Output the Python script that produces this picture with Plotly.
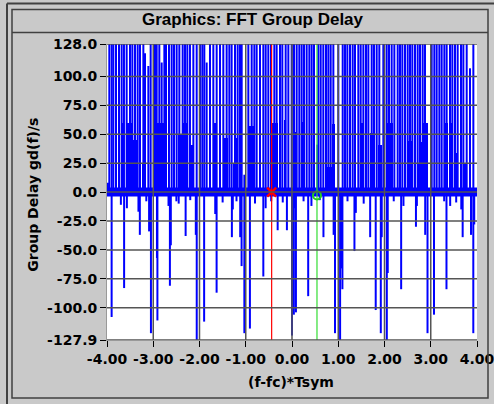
import plotly.graph_objects as go

# spikes that wrap to the top of the scale
full_x = [-3.950, -3.899, -3.863, -3.805, -3.741, -3.683, -3.633, -3.575, -3.503, -3.452,
          -3.395, -3.337, -3.287, -3.214, -3.056, -2.962, -2.926, -2.869, -2.760, -2.724,
          -2.660, -2.602, -2.551, -2.494, -2.436, -2.364, -2.314, -2.263, -2.206, -2.133,
          -2.061, -1.989, -1.939, -1.896, -1.773, -1.701, -1.629, -1.557, -1.485, -1.413,
          -1.355, -1.305, -1.232, -1.175, -1.124, -1.088, -0.944, -0.872, -0.814, -0.764,
          -0.692, -0.620, -0.569, -0.512, -0.454, -0.382, -0.332, -0.260, -0.209, -0.137,
          -0.079, -0.007, 0.043, 0.101, 0.158, 0.209, 0.259, 0.317, 0.375, 0.425,
          0.476, 0.569, 0.620, 0.677, 0.735, 0.786, 0.836, 0.894, 1.002, 1.096,
          1.146, 1.197, 1.254, 1.312, 1.362, 1.434, 1.485, 1.543, 1.600, 1.651,
          1.723, 1.773, 1.831, 1.888, 1.975, 2.047, 2.097, 2.155, 2.213, 2.285,
          2.335, 2.386, 2.443, 2.501, 2.551, 2.602, 2.659, 2.717, 2.768, 2.825,
          2.876, 3.020, 3.077, 3.128, 3.186, 3.236, 3.294, 3.344, 3.416, 3.467,
          3.524, 3.582, 3.654, 3.705, 3.777, 3.921]
full_top = 128.0

# single spikes of other heights (up and down)
spike_x = [-3.178, -3.106, -2.818, -1.845, 3.849, -3.98, -1.03, 0.55,
           -3.90, -3.63, -3.57, -3.70, -3.29, -3.32, -3.09, -3.05, -2.91, -2.92,
           -2.64, -2.62, -2.67, -2.30, -2.06, -2.08, -1.90, -1.63, -1.66, -1.30,
           -1.28, -1.12, -1.09, -1.03, -0.91, -0.62, -0.57, -0.31, -0.11, 0.00,
           0.04, 0.085, 0.06, 0.35, 0.42, 0.68, 0.90, 0.93, 1.04, 1.06,
           1.09, 1.35, 1.38, 1.69, 1.81, 1.92, 1.94, 2.05, 2.07, 2.36,
           2.41, 2.68, 2.70, 2.88, 2.93, 3.07, 3.34, 3.29, 3.42, 3.66,
           3.69, 3.87, 3.92, 3.94, -3.15, -2.50, -2.45, -2.20, -1.50, -1.20,
           -0.80, -0.45, -0.20, 0.25, 0.60, 1.20, 1.55, 2.20, 3.55]
spike_y = [120, 109, 112, 112, 107, 8, 15, 41,
           -108, -83, -14, -11, -37, -17, -34, -122, -111, -57,
           -81, -46, -12, -38, -127.9, -37, -112, -87, -19, -39,
           -15, -39, -64, -122, -118, -73, -14, -33, -33, -124,
           -106, -104, -14, -90, -12, -39, -37, -122, -127.9, -66,
           -84, -51, -18, -39, -102, -122, -39, -127.9, -70, -84,
           -12, -30, -12, -37, -122, -106, -84, -8, -12, -15,
           -39, -37, -122, -28, -8, -8, -10, -7, -9, -8,
           -10, -8, -9, -8, -7, -8, -10, -8, -9]

# dense clusters of spikes (start, end, height)
block_x0 = [-3.683, -3.575, -3.431, -3.250, -2.962, -2.458, -2.350, -2.206,
            -1.665, -1.463, -1.268, -1.196, -0.944, -0.440, -0.160,
            0.065, 0.209, 0.713, 0.858, 1.470, 1.687, 1.867,
            2.047, 2.515, 2.695, 2.768, 2.840, 3.294, 3.416, 3.524, 3.720]
block_x1 = [-3.633, -3.467, -3.359, -3.193, -2.746, -2.386, -2.241, -2.133,
            -1.629, -1.377, -1.196, -1.160, -0.800, -0.296, -0.130,
            0.101, 0.281, 0.894, 0.930, 1.543, 1.759, 1.939,
            2.191, 2.587, 2.840, 2.876, 2.933, 3.380, 3.488, 3.596, 3.760]
block_h = [60, 60, 45, 24, 60, 50, 60, 41,
           60, 47, 24, 47, 57, 60, 62,
           52, 61, 22, 59, 60, 51, 41,
           60, 44, 24, 43, 60, 60, 60, 34, 24]

# cursor markers
red_x, red_y = -0.44, 0.0
green_x, green_y = 0.54, -3.0

y_ticks = [128.0, 100.0, 75.0, 50.0, 25.0, 0.0, -25.0, -50.0, -75.0, -100.0, -127.9]
y_labels = ["128.0", "100.0", "75.0", "50.0", "25.0", "0.0", "-25.0", "-50.0", "-75.0", "-100.0", "-127.9"]
x_ticks = [-4, -3, -2, -1, 0, 1, 2, 3, 4]
x_labels = ["-4.00", "-3.00", "-2.00", "-1.00", "0.00", "1.00", "2.00", "3.00", "4.00"]

BLUE = "#0000ff"
GRID = "#555555"
FRAME = "#404040"
tick_font = dict(family="DejaVu Sans", size=14, color="black", weight="bold")

# build vertical spike segments
pairs = [(x, full_top) for x in full_x] + list(zip(spike_x, spike_y))
pairs.sort()
sx, sy = [], []
for x, h in pairs:
    sx += [x, x, None]
    sy += [0, h, None]

fig = go.Figure()

fig.add_trace(go.Bar(
    x=[(a + b) / 2 for a, b in zip(block_x0, block_x1)],
    y=block_h,
    width=[b - a for a, b in zip(block_x0, block_x1)],
    marker=dict(color=BLUE, line=dict(width=0)),
    hoverinfo="skip"))

fig.add_trace(go.Scatter(x=[-4, 4], y=[0, 0], mode="lines",
                         line=dict(color=BLUE, width=9), hoverinfo="skip"))
fig.add_trace(go.Scatter(x=sx, y=sy, mode="lines",
                         line=dict(color=BLUE, width=2), hoverinfo="skip"))

# cursor lines
fig.add_trace(go.Scatter(x=[red_x, red_x], y=[-127.9, 128], mode="lines",
                         line=dict(color="#ff0000", width=1.2)))
fig.add_trace(go.Scatter(x=[green_x, green_x], y=[-127.9, 128], mode="lines",
                         line=dict(color="#33dd33", width=1.2)))
fig.add_trace(go.Scatter(x=[red_x], y=[red_y], mode="markers",
                         marker=dict(symbol="x-thin", size=9, color="#ff0000",
                                     line=dict(color="#ff0000", width=2.5))))
fig.add_trace(go.Scatter(x=[green_x], y=[green_y], mode="markers",
                         marker=dict(symbol="circle-open", size=8, color="#22cc22",
                                     line=dict(width=2))))

# grid lines drawn over the data
for v in y_ticks:
    fig.add_shape(type="line", xref="paper", x0=0, x1=1, yref="y", y0=v, y1=v,
                  line=dict(color=GRID, width=1.5), layer="above")
for v in x_ticks[1:-1]:
    fig.add_shape(type="line", yref="paper", y0=0, y1=1, xref="x", x0=v, x1=v,
                  line=dict(color=GRID, width=1.5), layer="above")

# window frame (pixel -> paper coordinates)
def px(x):
    return (x - 107) / 370

def py(y):
    return (340 - y) / 295.5

fig.add_shape(type="line", xref="paper", yref="paper", x0=px(7), x1=px(7), y0=py(4), y1=py(404),
              line=dict(color=FRAME, width=2))
fig.add_shape(type="line", xref="paper", yref="paper", x0=px(7), x1=px(494), y0=py(4), y1=py(4),
              line=dict(color=FRAME, width=2))
fig.add_shape(type="rect", xref="paper", yref="paper", x0=px(12), x1=px(488), y0=py(10), y1=py(398),
              line=dict(color=FRAME, width=1.5))
fig.add_shape(type="line", xref="paper", yref="paper", x0=px(12), x1=px(488), y0=py(33), y1=py(33),
              line=dict(color=FRAME, width=1.5))

fig.add_annotation(text="Graphics: FFT Group Delay", xref="paper", yref="paper",
                   x=px(253), y=py(20), xanchor="center", yanchor="middle", showarrow=False,
                   font=dict(family="Liberation Sans", size=17, color="black", weight="bold"))
fig.add_annotation(text="(f-fc)*Tsym", xref="paper", yref="paper",
                   x=px(291), y=py(382), xanchor="center", yanchor="middle", showarrow=False,
                   font=tick_font)
fig.add_annotation(text="Group Delay gd(f)/s", xref="paper", yref="paper",
                   x=px(33), y=py(195), xanchor="center", yanchor="middle", showarrow=False,
                   textangle=-90, font=tick_font)

fig.update_xaxes(range=[-4, 4], tickvals=x_ticks, ticktext=x_labels, showgrid=False,
                 zeroline=False, ticks="outside", ticklen=6, tickcolor="black",
                 tickfont=tick_font, showline=True, linecolor="#999999", linewidth=1,
                 ticklabeloverflow="allow", automargin=False)
fig.update_yaxes(range=[-127.9, 128], tickvals=y_ticks, ticktext=y_labels, showgrid=False,
                 zeroline=False, ticks="outside", ticklen=6, tickcolor="black",
                 tickfont=tick_font, showline=True, linecolor="#999999", linewidth=1,
                 automargin=False)

fig.update_layout(
    width=494, height=404,
    margin=dict(l=107, r=17, t=44, b=64),
    paper_bgcolor="#c9c9c9",
    plot_bgcolor="white",
    showlegend=False,
    barmode="overlay",
    bargap=0,
)

# page body has an 8px default margin; drop it so the figure fills the window
fig.write_html("out.html", config={"displayModeBar": False},
               post_script="document.body.style.margin='0';")
